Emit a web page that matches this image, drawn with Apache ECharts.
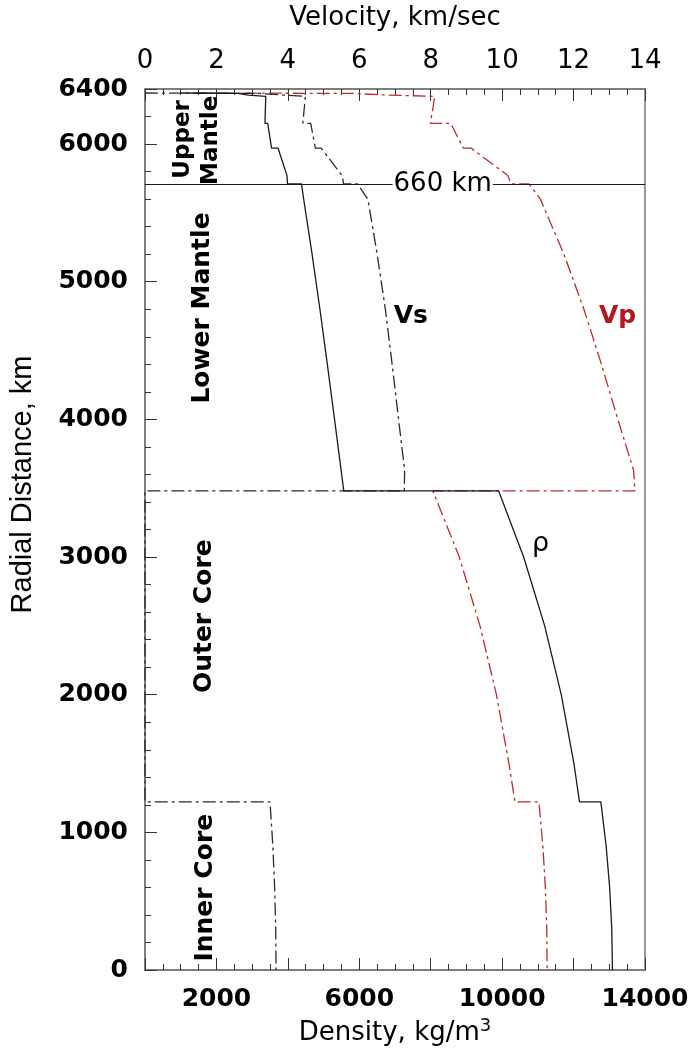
<!DOCTYPE html>
<html>
<head>
<meta charset="utf-8">
<script src="https://cdn.jsdelivr.net/npm/echarts@6.0.0/dist/echarts.min.js"></script>
<style>
  html, body { margin: 0; padding: 0; background: #fff; }
  #chart { width: 698px; height: 1053px; }
</style>
</head>
<body>
<div id="chart"></div>
<script>
// profiles, surface -> centre (repeated radius = discontinuity)
const radius = [6371, 6368, 6368, 6356, 6356, 6346.6, 6346.6, 6291, 6151, 6151,
  5971, 5971, 5771, 5711, 5711, 5600, 5200, 4800, 4400, 4000, 3630, 3480,
  3480, 3000, 2500, 2000, 1500, 1221.5, 1221.5, 900, 600, 300, 0]
const density = [1020, 1020, 2600, 2600, 2900, 2900, 3381, 3375, 3360, 3436,
  3543, 3724, 3976, 3990, 4381, 4443, 4678, 4898, 5106, 5307, 5492, 5566,
  9903, 10602, 11191, 11655, 12010, 12166, 12764, 12912, 13010, 13069, 13089]
const vp = [1.45, 1.45, 5.8, 5.8, 6.8, 6.8, 8.11, 8.08, 7.99, 8.56,
  8.91, 9.13, 10.16, 10.25, 10.75, 11.07, 11.73, 12.29, 12.78, 13.24, 13.68, 13.72,
  8.06, 8.80, 9.38, 9.84, 10.19, 10.36, 11.03, 11.14, 11.21, 11.25, 11.26]
const vs = [0, 0, 3.2, 3.2, 3.9, 3.9, 4.49, 4.47, 4.42, 4.64,
  4.77, 4.93, 5.52, 5.56, 5.95, 6.24, 6.50, 6.73, 6.92, 7.10, 7.27, 7.26,
  0, 0, 0, 0, 0, 0, 3.50, 3.58, 3.63, 3.66, 3.67]
const radiusLabels = [0, 1000, 2000, 3000, 4000, 5000, 6000, 6400]
const densityLabels = [2000, 6000, 10000, 14000]
const r660 = 5711

const dashDot = [13, 4, 3, 4]
const font = '"DejaVu Sans"'
const plain = v => String(v)

function pairs(vals) {
  return vals.map((v, i) => [v, radius[i]])
}

let myChart = echarts.init(document.getElementById('chart'))

myChart.setOption({
  animation: false,
  grid: {
    left: 145, right: 53, top: 88, bottom: 83,
    show: true, borderColor: '#777', borderWidth: 1.5
  },
  xAxis: [
    {
      type: 'value', position: 'bottom',
      min: 0, max: 14000, interval: 2000,
      name: 'Density, kg/m{sup|3}', nameLocation: 'middle', nameGap: 46,
      nameTextStyle: {
        fontFamily: font, fontSize: 26, color: '#000',
        rich: { sup: { fontFamily: font, fontSize: 18, color: '#000', padding: [0, 0, 14, 0] } }
      },
      axisLine: { lineStyle: { color: '#777', width: 1.5 } },
      axisTick: { inside: true, length: 12, lineStyle: { color: '#333' } },
      minorTick: { show: true, splitNumber: 4, length: 6, lineStyle: { color: '#333' } },
      splitLine: { show: false },
      axisLabel: {
        customValues: densityLabels, margin: 17, formatter: plain,
        fontFamily: font, fontWeight: 'bold', fontSize: 25, color: '#000'
      }
    },
    {
      type: 'value', position: 'top',
      min: 0, max: 14, interval: 2,
      name: 'Velocity, km/sec', nameLocation: 'middle', nameGap: 58,
      nameTextStyle: { fontFamily: font, fontSize: 26, color: '#000' },
      axisLine: { lineStyle: { color: '#777', width: 1.5 } },
      axisTick: { inside: true, length: 12, lineStyle: { color: '#333' } },
      minorTick: { show: true, splitNumber: 4, length: 6, lineStyle: { color: '#333' } },
      splitLine: { show: false },
      axisLabel: { margin: 15, formatter: plain, fontFamily: font, fontSize: 26, color: '#000' }
    }
  ],
  yAxis: {
    type: 'value', min: 0, max: 6400, interval: 1000,
    name: 'Radial Distance, km', nameLocation: 'middle', nameRotate: 90, nameGap: 108,
    nameTextStyle: {
      fontFamily: '"Liberation Sans"', fontSize: 29, color: '#000',
      padding: [0, 0, 0, 90]
    },
    axisLine: { lineStyle: { color: '#777', width: 1.5 } },
    axisTick: { inside: true, length: 12, lineStyle: { color: '#333' } },
    minorTick: { show: true, splitNumber: 5, length: 6, lineStyle: { color: '#333' } },
    splitLine: { show: false },
    axisLabel: {
      customValues: radiusLabels, margin: 17, formatter: plain,
      fontFamily: font, fontWeight: 'bold', fontSize: 25, color: '#000'
    }
  },
  series: [
    {
      name: 'Vp', type: 'line', xAxisIndex: 1, symbol: 'none',
      data: pairs(vp),
      lineStyle: { color: '#bf2a2f', width: 1.3, type: dashDot }
    },
    {
      name: 'Vs', type: 'line', xAxisIndex: 1, symbol: 'none',
      data: pairs(vs),
      lineStyle: { color: '#2a2a2a', width: 1.3, type: dashDot }
    },
    {
      name: 'rho', type: 'line', xAxisIndex: 0, symbol: 'none',
      data: pairs(density),
      lineStyle: { color: '#1a1a1a', width: 1.3 },
      markLine: {
        silent: true, symbol: 'none',
        label: { show: false },
        lineStyle: { color: '#1a1a1a', width: 1.2, type: 'solid' },
        data: [{ yAxis: r660 }]
      }
    }
  ]
})

// text labels placed through the chart's own scales (density units on x)
function at(x, r) {
  return myChart.convertToPixel({ gridIndex: 0 }, [x, r])
}
function note(text, x, r, opts) {
  const p = at(x, r)
  return {
    type: 'text', x: p[0], y: p[1], rotation: opts.rotate ? Math.PI / 2 : 0, z: 100,
    style: Object.assign({
      text: text, fill: '#000',
      font: (opts.weight || 'bold') + ' ' + (opts.size || 25) + 'px ' + font,
      align: 'center', verticalAlign: 'middle',
      textAlign: 'center', textVerticalAlign: 'middle'
    }, opts.style || {})
  }
}

myChart.setOption({
  graphic: [
    note('Upper', 1063, 6034, { rotate: true, size: 23 }),
    note('Mantle', 1846, 6027, { rotate: true, size: 23 }),
    note('Lower Mantle', 1622, 4809, { rotate: true }),
    note('Outer Core', 1678, 2570, { rotate: true }),
    note('Inner Core', 1706, 598, { rotate: true }),
    note('660 km', 8336, r660, { weight: 'normal', size: 26, style: { backgroundColor: '#fff', padding: [0, 1] } }),
    note('Vs', 7441, 4744, {}),
    note('Vp', 13231, 4744, { style: { fill: '#b3161d' } }),
    note('ρ', 11077, 3098, { weight: 'normal', size: 27 })
  ]
})
</script>
</body>
</html>
